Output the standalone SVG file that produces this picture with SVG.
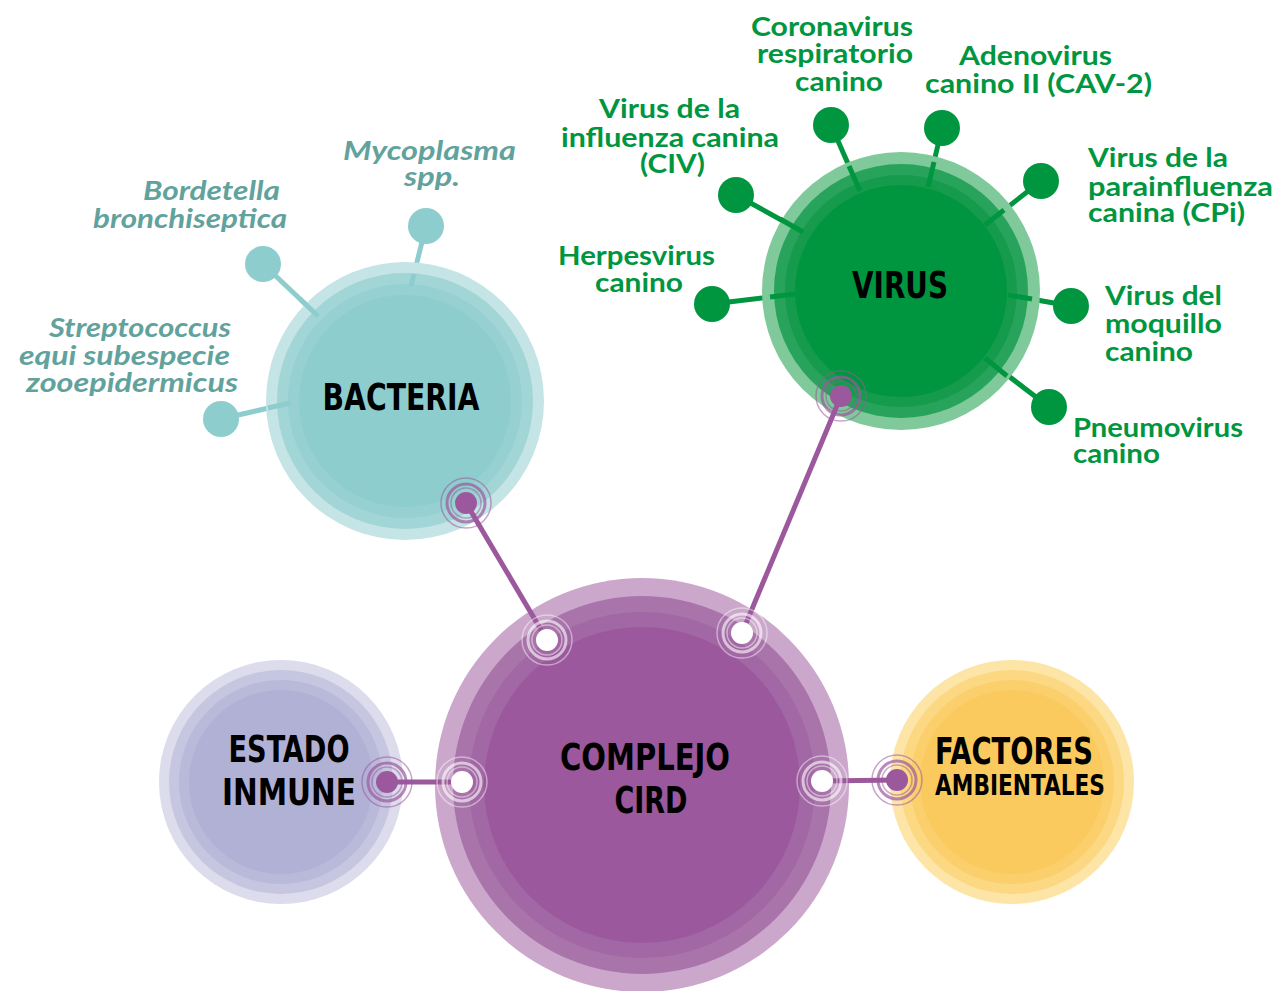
<svg xmlns="http://www.w3.org/2000/svg" width="1277" height="991" viewBox="0 0 1277 991">
<defs>
<style>
.title{font-family:'DejaVu Sans Condensed','DejaVu Sans',sans-serif;font-stretch:condensed;font-weight:bold;fill:#000;text-anchor:middle}
.vl{font-family:Lato,'Noto Sans',sans-serif;font-weight:700;font-size:27px;fill:#009640}
.bl{font-family:Lato,'Noto Sans',sans-serif;font-weight:700;font-style:italic;font-size:27px;fill:#62a29d}
.vs{stroke:#009640;stroke-width:5;fill:none}
.bs{stroke:#8ecdce;stroke-width:5;fill:none}
.conn{stroke:#9b589c;stroke-width:5;fill:none}
</style>
<g id="ringW">
<circle r="25" fill="none" stroke="#ffffff" stroke-opacity="0.45" stroke-width="1.5"/>
<circle r="19" fill="none" stroke="#ffffff" stroke-opacity="0.6" stroke-width="3"/>
<circle r="15" fill="none" stroke="#ffffff" stroke-opacity="0.45" stroke-width="1.5"/>
<circle r="11" fill="#ffffff"/>
</g>
<g id="ringP">
<circle r="25" fill="none" stroke="#9b589c" stroke-opacity="0.55" stroke-width="1.5"/>
<circle r="19" fill="none" stroke="#9b589c" stroke-opacity="0.7" stroke-width="3"/>
<circle r="15" fill="none" stroke="#9b589c" stroke-opacity="0.5" stroke-width="1.5"/>
<circle r="11" fill="#9b589c"/>
</g>
</defs>
<rect width="1277" height="991" fill="#ffffff"/>

<g id="bacteria">
<line class="bs" x1="263" y1="264" x2="318" y2="316"/>
<line class="bs" x1="426" y1="226" x2="411" y2="286"/>
<line class="bs" x1="221" y1="419" x2="290" y2="403"/>
<circle cx="263" cy="264" r="18" fill="#8ecdce"/>
<circle cx="426" cy="226" r="18" fill="#8ecdce"/>
<circle cx="221" cy="419" r="18" fill="#8ecdce"/>
<circle cx="405" cy="401" r="139" fill="#c4e4e5"/>
<circle cx="405" cy="401" r="128" fill="#a2d5d6"/>
<circle cx="405" cy="401" r="117" fill="#96d0d1"/>
<circle cx="405" cy="401" r="106" fill="#8ecdce"/>
<line class="bs" x1="300" y1="299" x2="318" y2="316"/>
<line class="bs" x1="414" y1="274" x2="411" y2="286"/>
<line class="bs" x1="268" y1="408" x2="290" y2="403"/>
<text class="title" x="401" y="410" font-size="38" textLength="157" lengthAdjust="spacingAndGlyphs">BACTERIA</text>
<text class="bl"><tspan x="343" y="160" textLength="173" lengthAdjust="spacingAndGlyphs">Mycoplasma</tspan><tspan x="404" y="186" textLength="56" lengthAdjust="spacingAndGlyphs">spp.</tspan></text>
<text class="bl"><tspan x="143" y="200" textLength="137" lengthAdjust="spacingAndGlyphs">Bordetella</tspan><tspan x="93" y="228" textLength="194" lengthAdjust="spacingAndGlyphs">bronchiseptica</tspan></text>
<text class="bl"><tspan x="49" y="337" textLength="182" lengthAdjust="spacingAndGlyphs">Streptococcus</tspan><tspan x="19" y="365" textLength="211" lengthAdjust="spacingAndGlyphs">equi subespecie</tspan><tspan x="26" y="392" textLength="212" lengthAdjust="spacingAndGlyphs">zooepidermicus</tspan></text>
</g>

<g id="virus">
<line class="vs" x1="831" y1="125" x2="860" y2="191"/>
<line class="vs" x1="942" y1="128" x2="928" y2="187"/>
<line class="vs" x1="736" y1="195" x2="803" y2="232"/>
<line class="vs" x1="1041" y1="181" x2="985" y2="225"/>
<line class="vs" x1="712" y1="304" x2="795" y2="294"/>
<line class="vs" x1="1071" y1="306" x2="1008" y2="295"/>
<line class="vs" x1="1049" y1="407" x2="985" y2="358"/>
<circle cx="831" cy="125" r="18" fill="#009640"/>
<circle cx="942" cy="128" r="18" fill="#009640"/>
<circle cx="736" cy="195" r="18" fill="#009640"/>
<circle cx="1041" cy="181" r="18" fill="#009640"/>
<circle cx="712" cy="304" r="18" fill="#009640"/>
<circle cx="1071" cy="306" r="18" fill="#009640"/>
<circle cx="1049" cy="407" r="18" fill="#009640"/>
<circle cx="901" cy="291" r="139" fill="#7fc99a"/>
<circle cx="901" cy="291" r="127" fill="#27a35b"/>
<circle cx="901" cy="291" r="116" fill="#169b4c"/>
<circle cx="901" cy="291" r="106" fill="#009640"/>
<line class="vs" x1="849" y1="166" x2="860" y2="191"/>
<line class="vs" x1="934" y1="162" x2="928" y2="187"/>
<line class="vs" x1="780" y1="219" x2="803" y2="232"/>
<line class="vs" x1="1004" y1="210" x2="985" y2="225"/>
<line class="vs" x1="770" y1="297" x2="795" y2="294"/>
<line class="vs" x1="1032" y1="299" x2="1008" y2="295"/>
<line class="vs" x1="1007" y1="376" x2="985" y2="358"/>
<text class="title" x="900" y="298" font-size="38" textLength="96" lengthAdjust="spacingAndGlyphs">VIRUS</text>
<text class="vl"><tspan x="751" y="36" textLength="162" lengthAdjust="spacingAndGlyphs">Coronavirus</tspan><tspan x="757" y="63" textLength="156" lengthAdjust="spacingAndGlyphs">respiratorio</tspan><tspan x="795" y="91" textLength="88" lengthAdjust="spacingAndGlyphs">canino</tspan></text>
<text class="vl"><tspan x="959" y="65" textLength="153" lengthAdjust="spacingAndGlyphs">Adenovirus</tspan><tspan x="925" y="93" textLength="227" lengthAdjust="spacingAndGlyphs">canino II (CAV-2)</tspan></text>
<text class="vl"><tspan x="599" y="118" textLength="141" lengthAdjust="spacingAndGlyphs">Virus de la</tspan><tspan x="561" y="147" textLength="218" lengthAdjust="spacingAndGlyphs">influenza canina</tspan><tspan x="640" y="173" textLength="65" lengthAdjust="spacingAndGlyphs">(CIV)</tspan></text>
<text class="vl"><tspan x="1088" y="167" textLength="140" lengthAdjust="spacingAndGlyphs">Virus de la</tspan><tspan x="1088" y="196" textLength="185" lengthAdjust="spacingAndGlyphs">parainfluenza</tspan><tspan x="1088" y="222" textLength="157" lengthAdjust="spacingAndGlyphs">canina (CPi)</tspan></text>
<text class="vl"><tspan x="558" y="265" textLength="157" lengthAdjust="spacingAndGlyphs">Herpesvirus</tspan><tspan x="595" y="292" textLength="88" lengthAdjust="spacingAndGlyphs">canino</tspan></text>
<text class="vl"><tspan x="1105" y="305" textLength="117" lengthAdjust="spacingAndGlyphs">Virus del</tspan><tspan x="1105" y="333" textLength="117" lengthAdjust="spacingAndGlyphs">moquillo</tspan><tspan x="1105" y="361" textLength="88" lengthAdjust="spacingAndGlyphs">canino</tspan></text>
<text class="vl"><tspan x="1073" y="437" textLength="170" lengthAdjust="spacingAndGlyphs">Pneumovirus</tspan><tspan x="1073" y="463" textLength="87" lengthAdjust="spacingAndGlyphs">canino</tspan></text>
</g>

<g id="estado-inmune">
<circle cx="281" cy="782" r="122" fill="#dcdcec"/>
<circle cx="281" cy="782" r="112" fill="#c6c6e1"/>
<circle cx="281" cy="782" r="102" fill="#b9b9da"/>
<circle cx="281" cy="782" r="92" fill="#b1b1d5"/>
<text class="title" x="289" y="762" font-size="38" textLength="121" lengthAdjust="spacingAndGlyphs">ESTADO</text>
<text class="title" x="289" y="805" font-size="38" textLength="134" lengthAdjust="spacingAndGlyphs">INMUNE</text>
</g>

<g id="factores-ambientales">
<circle cx="1012" cy="782" r="122" fill="#fde5a8"/>
<circle cx="1012" cy="782" r="112" fill="#fcd883"/>
<circle cx="1012" cy="782" r="102" fill="#fbcf6c"/>
<circle cx="1012" cy="782" r="92" fill="#fbca5f"/>
<text class="title" x="1014" y="764" font-size="38" textLength="158" lengthAdjust="spacingAndGlyphs">FACTORES</text>
<text class="title" x="1020" y="795" font-size="28" textLength="170" lengthAdjust="spacingAndGlyphs">AMBIENTALES</text>
</g>

<g id="complejo-cird">
<circle cx="642" cy="785" r="207" fill="#cba7cc"/>
<circle cx="642" cy="785" r="189" fill="#a874aa"/>
<circle cx="642" cy="785" r="173" fill="#a267a5"/>
<circle cx="642" cy="785" r="158" fill="#9b589c"/>
<text class="title" x="645" y="770" font-size="38" textLength="170" lengthAdjust="spacingAndGlyphs">COMPLEJO</text>
<text class="title" x="651" y="813" font-size="38" textLength="73" lengthAdjust="spacingAndGlyphs">CIRD</text>
</g>

<g id="connectors">
<line class="conn" x1="466" y1="503" x2="547" y2="640"/>
<line class="conn" x1="841" y1="396" x2="742" y2="633"/>
<line class="conn" x1="387" y1="782" x2="462" y2="782"/>
<line class="conn" x1="897" y1="780" x2="822" y2="781"/>
<use href="#ringP" x="466" y="503"/>
<use href="#ringP" x="841" y="396"/>
<use href="#ringP" x="387" y="782"/>
<use href="#ringP" x="897" y="780"/>
<use href="#ringW" x="547" y="640"/>
<use href="#ringW" x="742" y="633"/>
<use href="#ringW" x="462" y="782"/>
<use href="#ringW" x="822" y="781"/>
</g>
</svg>
